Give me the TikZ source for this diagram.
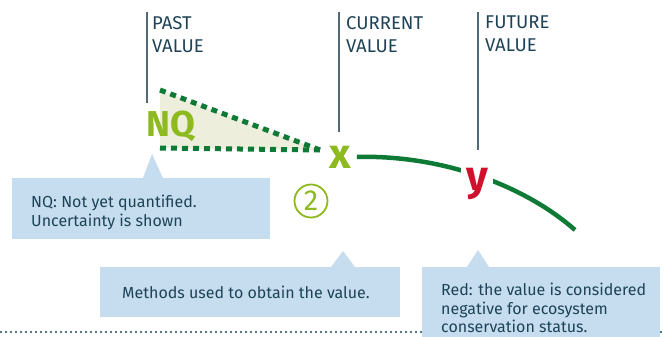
\documentclass[tikz,border=0pt]{standalone}
\usepackage{fontspec}
\setmainfont{Fira Sans}
\usetikzlibrary{calc}
\definecolor{ink}{HTML}{1E4356}
\definecolor{rulecol}{HTML}{4F6B7B}
\definecolor{lime}{HTML}{8DBA1E}
\definecolor{leaf}{HTML}{0E7A35}
\definecolor{alarm}{HTML}{D0112B}
\definecolor{notefill}{HTML}{C6DCEF}
\definecolor{haze}{HTML}{EDEEDC}
\tikzset{
  head/.style={font=\fontsize{18.5}{23}\selectfont, text=ink, anchor=north west, inner sep=0pt, align=left},
  tick/.style={draw=rulecol, line width=1.2pt},
  notebox/.style={fill=notefill, inner sep=0pt, anchor=north west},
  notetext/.style={font=\fontsize{16}{18.5}\selectfont, text=ink, anchor=north west, inner sep=0pt, align=left},
  trend/.style={draw=leaf, line width=4.5pt},
  dotline/.style={draw=leaf, line width=5pt, dash pattern=on 6pt off 5pt},
  bigmark/.style={font=\bfseries\fontsize{42}{42}\selectfont, inner sep=0pt, anchor=base},
}
\begin{document}
\begin{tikzpicture}[x=1pt,y=-1pt]
\useasboundingbox (0,0) rectangle (665,337);

% separator along the bottom
\draw[ink, line width=2.1pt, dash pattern=on 0pt off 5pt, line cap=round] (1,332) -- (665,332);

% column headings with their rules
\node[head] (past) at (152,16) {PAST\\VALUE};
\node[head] (current) at (346,16) {CURRENT\\VALUE};
\node[head] (future) at (485,16) {FUTURE\\VALUE};
\draw[tick] ($(past.north west)+(-5,-4)$) -- ++(0,91);
\draw[tick] ($(current.north west)+(-7,-4)$) -- ++(0,120);
\draw[tick] ($(future.north west)+(-7,-4)$) -- ++(0,138);

% uncertainty wedge for the past value
\coordinate (nqtop) at (160,90);
\coordinate (nqbase) at (160,148);
\coordinate (xtip) at (320,150);
\fill[haze] (nqtop) -- (xtip) -- (nqbase) -- cycle;
\node[font=\bfseries\fontsize{36}{36}\selectfont, text=lime, anchor=base west, inner sep=0pt] (nq) at (146,136) {NQ};
\draw[dotline] (nqtop) -- (xtip);
\draw[dotline] (nqbase) -- (xtip);

% current and future values on the trend
\node[bigmark, text=lime] (xv) at (340,168) {x};
\coordinate (tail) at (575,230);
\draw[trend] ([xshift=6pt]xv.east) .. controls (450,155) and (530,190) .. (tail);
\node[bigmark, text=alarm, fill=white, inner sep=5pt] (yv) at (477,190) {y};

% method number
\node[circle, draw=lime, line width=1.8pt, minimum size=33pt, inner sep=0pt, text=lime, font=\fontsize{29}{29}\selectfont] (two) at (311,201) {2};

% explanatory notes
\node[notebox, minimum width=258pt, minimum height=61pt] (nqbox) at (12,178) {};
\fill[notefill] ($(nqbox.north west)+(131,0)$) -- ($(nqbox.north west)+(140,-24)$) -- ($(nqbox.north west)+(151,0)$) -- cycle;
\node[notetext] (nqtext) at ($(nqbox.north west)+(19,17)$) {NQ: Not yet quantified.\\Uncertainty is shown};

\node[notebox, minimum width=300pt, minimum height=50pt] (methbox) at (100,267) {};
\fill[notefill] ($(methbox.north west)+(231,0)$) -- ($(methbox.north west)+(243,-16)$) -- ($(methbox.north west)+(255,0)$) -- cycle;
\node[notetext] (methtext) at ($(methbox.north west)+(22,19)$) {Methods used to obtain the value.};

\node[notebox, minimum width=238pt, minimum height=70pt] (redbox) at (422,267) {};
\fill[notefill] ($(redbox.north west)+(45,0)$) -- ($(redbox.north west)+(56,-17)$) -- ($(redbox.north west)+(67,0)$) -- cycle;
\node[notetext] (redtext) at ($(redbox.north west)+(19,16)$) {Red: the value is considered\\negative for ecosystem\\conservation status.};
\end{tikzpicture}
\end{document}
